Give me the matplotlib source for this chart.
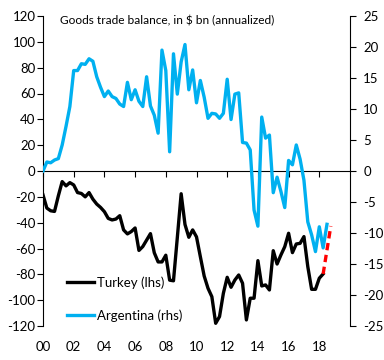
import numpy as np
import matplotlib
matplotlib.use('Agg')
import matplotlib.pyplot as plt
import matplotlib.transforms as mtransforms

plt.rcParams['font.family'] = ['Lato', 'DejaVu Sans']
plt.rcParams['axes.unicode_minus'] = False

# Quarterly data, 2000 Q1 onwards
turkey = [-18.5, -28.7, -30.8, -31.3, -19.2, -8.2, -11.5, -9.0,
          -10.8, -16.7, -17.4, -20.0, -16.7, -21.8, -25.6, -28.2,
          -31.5, -36.7, -37.9, -37.2, -34.6, -45.6, -48.7, -46.9,
          -44.1, -61.5, -58.5, -53.5, -48.5, -63.3, -70.4, -70.4,
          -65.2, -84.5, -85.0, -51.6, -17.6, -41.4, -51.3, -45.6,
          -51.0, -66.3, -81.3, -90.8, -97.3, -117.9, -112.7, -94.7,
          -82.3, -90.0, -84.4, -80.5, -86.9, -115.3, -98.5, -98.5,
          -69.4, -89.0, -88.2, -92.1, -61.7, -72.0, -65.0, -58.6,
          -48.2, -63.2, -56.5, -56.0, -50.8, -74.0, -91.6, -91.6,
          -83.0, -79.7]
argentina = [0.0, 1.45, 1.33, 1.77, 2.0, 4.2, 7.2, 10.4,
             16.2, 16.2, 17.3, 17.2, 18.1, 17.7, 15.2, 13.5,
             12.0, 12.9, 12.0, 11.7, 10.8, 10.4, 14.3, 11.5,
             13.1, 11.25, 10.4, 15.2, 10.5, 9.0, 6.1, 19.5,
             16.2, 3.1, 18.9, 12.4, 17.6, 20.4, 13.1, 16.3,
             11.0, 14.6, 11.9, 8.5, 9.3, 9.2, 8.5, 9.3,
             14.8, 8.3, 12.4, 12.6, 4.6, 4.5, 3.4, -6.3,
             -8.9, 8.7, 5.3, 5.8, -3.5, -1.0, -3.3, -5.9,
             1.7, 1.0, 4.2, 1.9, -1.5, -8.2, -10.3, -13.0,
             -9.0, -12.4, -8.6]
forecast_x = [2018.25, 2018.75]
forecast_y = [-79.7, -42.6]

t_turkey = 2000 + np.arange(len(turkey)) * 0.25
t_arg = 2000 + np.arange(len(argentina)) * 0.25

xticks = list(range(2000, 2019, 2))
xlabels = ['00', '02', '04', '06', '08', '10', '12', '14', '16', '18']

blue = '#00B0F0'
fs = 9.5

fig = plt.figure(figsize=(3.84, 3.6), dpi=100)
ax = fig.add_axes([43/384, 1-326/360, 307/384, 310/360])
ax2 = ax.twinx()

ax.plot(t_turkey, turkey, color='black', lw=2.4, label='Turkey (lhs)', zorder=3)
ax.plot(forecast_x, forecast_y, color='red', lw=2.4, ls=(0, (2.2, 1.4)), zorder=3)
ax2.plot(t_arg, argentina, color=blue, lw=2.4, label='Argentina (rhs)')

ax.set_xlim(2000, 2020)
ax.set_ylim(-120, 120)
ax2.set_ylim(-25, 25)
ax.set_yticks(range(-120, 121, 20))
ax2.set_yticks(range(-25, 26, 5))

for s in ['top', 'right']:
    ax.spines[s].set_visible(False)
for s in ['top', 'bottom', 'left']:
    ax2.spines[s].set_visible(False)
ax.spines['bottom'].set_position(('data', 0))
for a in (ax, ax2):
    for s in a.spines.values():
        s.set_linewidth(0.8)

ax.set_xticks(xticks)
ax.tick_params(axis='x', direction='out', length=4, width=0.8, labelbottom=False)
ax.tick_params(axis='y', direction='out', length=4, width=0.8, pad=1.5, labelsize=fs)
ax2.tick_params(axis='y', direction='out', length=4, width=0.8, pad=5.5, labelsize=fs)
for lab in ax2.get_yticklabels():
    lab.set_horizontalalignment('left')

trans = mtransforms.blended_transform_factory(ax.transData, ax.transAxes)
for x, lab in zip(xticks, xlabels):
    ax.text(x, -0.068, lab, transform=trans, ha='center', va='center', fontsize=fs)

ax.text(0.055, 0.974, 'Goods trade balance, in $ bn (annualized)', transform=ax.transAxes,
        ha='left', va='baseline', fontsize=8.6)

h1, l1 = ax.get_legend_handles_labels()
h2, l2 = ax2.get_legend_handles_labels()
ax.legend(h1 + h2, l1 + l2, loc='lower left', bbox_to_anchor=(0.04, -0.025), frameon=False,
          fontsize=fs, handlelength=2.0, handletextpad=0.25, labelspacing=1.55)

fig.savefig('out.png', dpi=100)
